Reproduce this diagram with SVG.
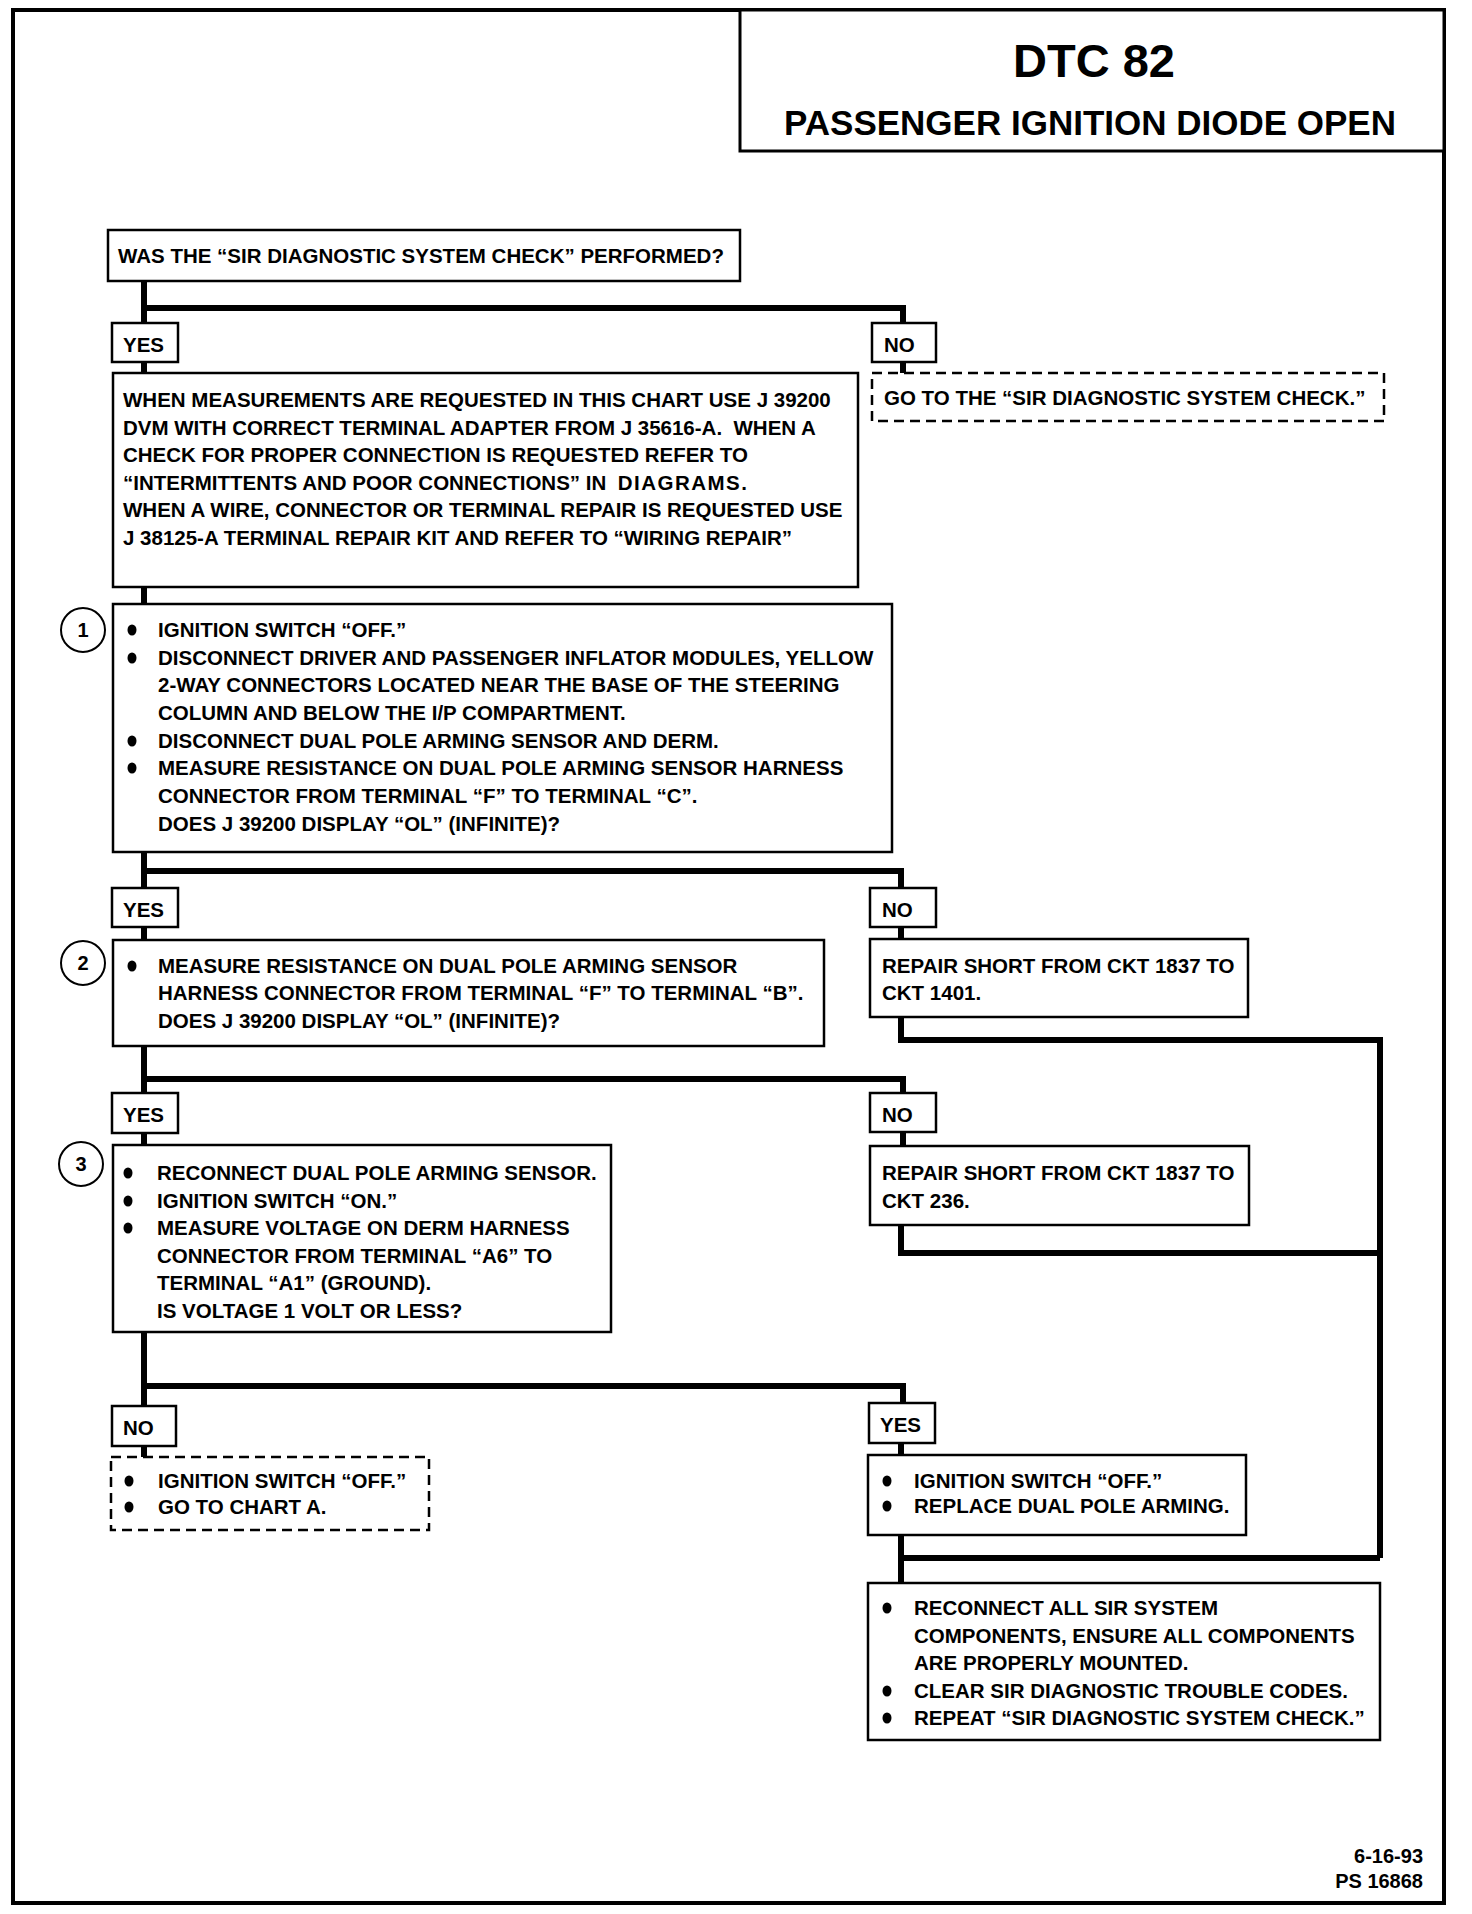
<svg xmlns="http://www.w3.org/2000/svg" width="1472" height="1914" viewBox="0 0 1472 1914">
<style>
.box{fill:#fff;stroke:#000;stroke-width:2.5}
.dash{fill:#fff;stroke:#000;stroke-width:2.5;stroke-dasharray:10 6}
.conn{fill:none;stroke:#000;stroke-width:6;stroke-linejoin:miter}
.t{font-family:"Liberation Sans",Arial,sans-serif;font-weight:bold;font-size:20.5px;fill:#000}
.n{font-family:"Liberation Sans",Arial,sans-serif;font-weight:bold;font-size:20px;fill:#000;text-anchor:middle}
.c{fill:#fff;stroke:#000;stroke-width:2}
.b{fill:#000}
</style>
<rect width="1472" height="1914" fill="#fff"/>
<rect id="frame" x="13" y="10" width="1431" height="1893" fill="none" stroke="#000" stroke-width="4"/>

<g id="title">
<rect x="740" y="10" width="704" height="141" fill="#fff" stroke="#000" stroke-width="3"/>
<text x="1094" y="77" font-family="Liberation Sans,Arial,sans-serif" font-weight="bold" font-size="47" text-anchor="middle">DTC 82</text>
<text x="1090" y="135" font-family="Liberation Sans,Arial,sans-serif" font-weight="bold" font-size="35" text-anchor="middle">PASSENGER IGNITION DIODE OPEN</text>
</g>

<g id="connectors">
<path class="conn" d="M144,281 V323 M144,308 H903 V323"/>
<path class="conn" d="M144,362 V373 M903,362 V373"/>
<path class="conn" d="M144,587 V604"/>
<path class="conn" d="M144,852 V888 M144,871 H901 V888"/>
<path class="conn" d="M144,927 V940 M901,927 V940"/>
<path class="conn" d="M144,1046 V1093 M144,1079 H903 V1093"/>
<path class="conn" d="M901,1017 V1040 H1380 V1558"/>
<path class="conn" d="M144,1133 V1145 M903,1132 V1146"/>
<path class="conn" d="M901,1225 V1253 H1380"/>
<path class="conn" d="M144,1332 V1406 M144,1386 H903 V1403"/>
<path class="conn" d="M144,1446 V1457 M901,1443 V1455"/>
<path class="conn" d="M901,1535 V1583 M1380,1558 H901"/>
</g>

<g id="q1">
<rect class="box" x="108" y="230" width="632" height="51"/>
<text class="t" x="118" y="263">WAS THE “SIR DIAGNOSTIC SYSTEM CHECK” PERFORMED?</text>
</g>

<g id="yes1"><rect class="box" x="112" y="323" width="66" height="39"/><text class="t" x="123" y="352">YES</text></g>
<g id="no1"><rect class="box" x="872" y="323" width="64" height="39"/><text class="t" x="884" y="352">NO</text></g>

<g id="goto1">
<rect class="dash" x="872" y="373" width="512" height="48"/>
<text class="t" x="884" y="405">GO TO THE “SIR DIAGNOSTIC SYSTEM CHECK.”</text>
</g>

<g id="info">
<rect class="box" x="113" y="373" width="745" height="214"/>
<text class="t" x="123" y="407">WHEN MEASUREMENTS ARE REQUESTED IN THIS CHART USE J 39200</text>
<text class="t" x="123" y="435" xml:space="preserve">DVM WITH CORRECT TERMINAL ADAPTER FROM J 35616-A.  WHEN A</text>
<text class="t" x="123" y="462">CHECK FOR PROPER CONNECTION IS REQUESTED REFER TO</text>
<text class="t" x="123" y="490" xml:space="preserve">“INTERMITTENTS AND POOR CONNECTIONS” IN  <tspan letter-spacing="1.5">DIAGRAMS.</tspan></text>
<text class="t" x="123" y="517">WHEN A WIRE, CONNECTOR OR TERMINAL REPAIR IS REQUESTED USE</text>
<text class="t" x="123" y="545">J 38125-A TERMINAL REPAIR KIT AND REFER TO “WIRING REPAIR”</text>
</g>

<g id="step1">
<circle class="c" cx="83" cy="630" r="22"/>
<text class="n" x="83" y="637">1</text>
<rect class="box" x="113" y="604" width="779" height="248"/>
<ellipse class="b" cx="132" cy="630" rx="4.5" ry="5.5"/>
<ellipse class="b" cx="132" cy="658" rx="4.5" ry="5.5"/>
<ellipse class="b" cx="132" cy="741" rx="4.5" ry="5.5"/>
<ellipse class="b" cx="132" cy="768" rx="4.5" ry="5.5"/>
<text class="t" x="158" y="637">IGNITION SWITCH “OFF.”</text>
<text class="t" x="158" y="665">DISCONNECT DRIVER AND PASSENGER INFLATOR MODULES, YELLOW</text>
<text class="t" x="158" y="692">2-WAY CONNECTORS LOCATED NEAR THE BASE OF THE STEERING</text>
<text class="t" x="158" y="720">COLUMN AND BELOW THE I/P COMPARTMENT.</text>
<text class="t" x="158" y="748">DISCONNECT DUAL POLE ARMING SENSOR AND DERM.</text>
<text class="t" x="158" y="775">MEASURE RESISTANCE ON DUAL POLE ARMING SENSOR HARNESS</text>
<text class="t" x="158" y="803">CONNECTOR FROM TERMINAL “F” TO TERMINAL “C”.</text>
<text class="t" x="158" y="831">DOES J 39200 DISPLAY “OL” (INFINITE)?</text>
</g>

<g id="yes2"><rect class="box" x="112" y="888" width="66" height="39"/><text class="t" x="123" y="917">YES</text></g>
<g id="no2"><rect class="box" x="870" y="888" width="66" height="39"/><text class="t" x="882" y="917">NO</text></g>

<g id="step2">
<circle class="c" cx="83" cy="963" r="22"/>
<text class="n" x="83" y="970">2</text>
<rect class="box" x="113" y="940" width="711" height="106"/>
<ellipse class="b" cx="132" cy="966" rx="4.5" ry="5.5"/>
<text class="t" x="158" y="973">MEASURE RESISTANCE ON DUAL POLE ARMING SENSOR</text>
<text class="t" x="158" y="1000">HARNESS CONNECTOR FROM TERMINAL “F” TO TERMINAL “B”.</text>
<text class="t" x="158" y="1028">DOES J 39200 DISPLAY “OL” (INFINITE)?</text>
</g>

<g id="repair1">
<rect class="box" x="870" y="939" width="378" height="78"/>
<text class="t" x="882" y="973">REPAIR SHORT FROM CKT 1837 TO</text>
<text class="t" x="882" y="1000">CKT 1401.</text>
</g>

<g id="yes3"><rect class="box" x="112" y="1093" width="66" height="40"/><text class="t" x="123" y="1122">YES</text></g>
<g id="no3"><rect class="box" x="870" y="1093" width="66" height="39"/><text class="t" x="882" y="1122">NO</text></g>

<g id="step3">
<circle class="c" cx="81" cy="1164" r="22"/>
<text class="n" x="81" y="1171">3</text>
<rect class="box" x="113" y="1145" width="498" height="187"/>
<ellipse class="b" cx="128" cy="1173" rx="4.5" ry="5.5"/>
<ellipse class="b" cx="128" cy="1201" rx="4.5" ry="5.5"/>
<ellipse class="b" cx="128" cy="1228" rx="4.5" ry="5.5"/>
<text class="t" x="157" y="1180">RECONNECT DUAL POLE ARMING SENSOR.</text>
<text class="t" x="157" y="1208">IGNITION SWITCH “ON.”</text>
<text class="t" x="157" y="1235">MEASURE VOLTAGE ON DERM HARNESS</text>
<text class="t" x="157" y="1263">CONNECTOR FROM TERMINAL “A6” TO</text>
<text class="t" x="157" y="1290">TERMINAL “A1” (GROUND).</text>
<text class="t" x="157" y="1318">IS VOLTAGE 1 VOLT OR LESS?</text>
</g>

<g id="repair2">
<rect class="box" x="870" y="1146" width="379" height="79"/>
<text class="t" x="882" y="1180">REPAIR SHORT FROM CKT 1837 TO</text>
<text class="t" x="882" y="1208">CKT 236.</text>
</g>

<g id="no4"><rect class="box" x="112" y="1406" width="64" height="40"/><text class="t" x="123" y="1435">NO</text></g>
<g id="yes4"><rect class="box" x="869" y="1403" width="66" height="40"/><text class="t" x="880" y="1432">YES</text></g>

<g id="chartA">
<rect class="dash" x="111" y="1457" width="318" height="73"/>
<ellipse class="b" cx="129" cy="1481" rx="4.5" ry="5.5"/>
<ellipse class="b" cx="129" cy="1507" rx="4.5" ry="5.5"/>
<text class="t" x="158" y="1488">IGNITION SWITCH “OFF.”</text>
<text class="t" x="158" y="1514">GO TO CHART A.</text>
</g>

<g id="replace">
<rect class="box" x="868" y="1455" width="378" height="80"/>
<ellipse class="b" cx="887" cy="1481" rx="4.5" ry="5.5"/>
<ellipse class="b" cx="887" cy="1506" rx="4.5" ry="5.5"/>
<text class="t" x="914" y="1488">IGNITION SWITCH “OFF.”</text>
<text class="t" x="914" y="1513">REPLACE DUAL POLE ARMING.</text>
</g>

<g id="final">
<rect class="box" x="868" y="1583" width="512" height="157"/>
<ellipse class="b" cx="887" cy="1608" rx="4.5" ry="5.5"/>
<ellipse class="b" cx="887" cy="1691" rx="4.5" ry="5.5"/>
<ellipse class="b" cx="887" cy="1718" rx="4.5" ry="5.5"/>
<text class="t" x="914" y="1615">RECONNECT ALL SIR SYSTEM</text>
<text class="t" x="914" y="1643">COMPONENTS, ENSURE ALL COMPONENTS</text>
<text class="t" x="914" y="1670">ARE PROPERLY MOUNTED.</text>
<text class="t" x="914" y="1698">CLEAR SIR DIAGNOSTIC TROUBLE CODES.</text>
<text class="t" x="914" y="1725">REPEAT “SIR DIAGNOSTIC SYSTEM CHECK.”</text>
</g>

<g id="footer">
<text x="1423" y="1863" font-family="Liberation Sans,Arial,sans-serif" font-weight="bold" font-size="20" text-anchor="end">6-16-93</text>
<text x="1423" y="1888" font-family="Liberation Sans,Arial,sans-serif" font-weight="bold" font-size="20" text-anchor="end">PS 16868</text>
</g>
</svg>
